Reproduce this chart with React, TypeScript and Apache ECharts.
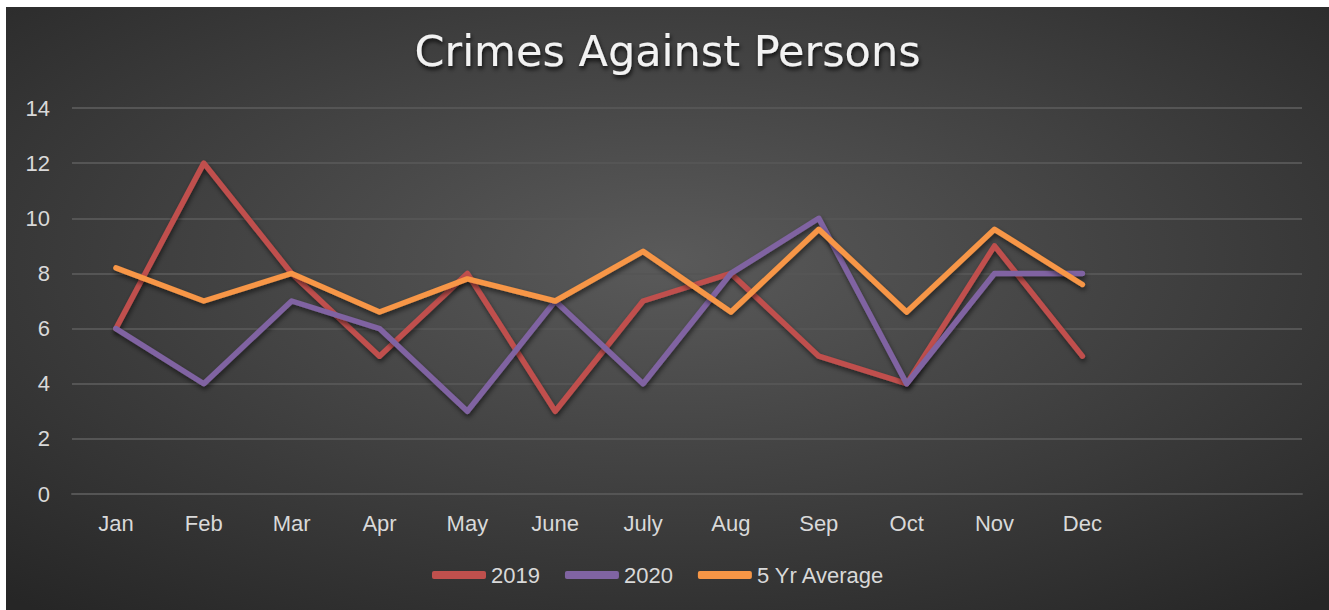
import React, { useEffect, useRef } from "react";
import * as echarts from "echarts";

const categories = ["Jan", "Feb", "Mar", "Apr", "May", "June", "July", "Aug", "Sep", "Oct", "Nov", "Dec", "", ""];
const s2019 = [6, 12, 8, 5, 8, 3, 7, 8, 5, 4, 9, 5];
const s2020 = [6, 4, 7, 6, 3, 7, 4, 8, 10, 4, 8, 8];
const sAvg = [8.2, 7, 8, 6.6, 7.8, 7, 8.8, 6.6, 9.6, 6.6, 9.6, 7.6];
const seriesNames = ["2019", "2020", "5 Yr Average"];
const colors = ["#C0504D", "#8064A2", "#F79646"];

export default function App() {
  const ref = useRef<HTMLDivElement>(null);
  useEffect(() => {
    const chart = echarts.init(ref.current!, null, { renderer: "svg" });
    const font = "'Liberation Sans', Arial, sans-serif";
    const mk = (name: string, data: number[], color: string) => ({
      name,
      type: "line",
      data,
      symbol: "none",
      lineStyle: {
        color,
        width: 5.5,
        cap: "round",
        join: "round",
        shadowColor: "rgba(0,0,0,0.55)",
        shadowBlur: 5,
        shadowOffsetY: 3,
        shadowOffsetX: 1,
      },
      itemStyle: { color },
    });
    chart.setOption({
      animation: false,
      backgroundColor: {
        type: "radial",
        x: 0.5,
        y: 0.42,
        r: 0.75,
        colorStops: [
          { offset: 0, color: "#5a5a5a" },
          { offset: 1, color: "#262626" },
        ],
      },
      title: {
        text: "Crimes Against Persons",
        left: "center",
        top: 17,
        textStyle: {
          color: "#f2f2f2",
          fontSize: 43,
          fontWeight: "normal",
          fontFamily: "'DejaVu Sans', sans-serif",
          textShadowColor: "rgba(0,0,0,0.8)",
          textShadowBlur: 4,
          textShadowOffsetY: 3,
          textShadowOffsetX: 1,
        },
      },
      legend: {
        data: seriesNames,
        top: 552,
        left: 421,
        icon: "roundRect",
        itemWidth: 54,
        itemHeight: 8,
        itemGap: 25,
        textStyle: { color: "#d9d9d9", fontSize: 22, fontFamily: font },
      },
      grid: { left: 66, right: 27, top: 101, bottom: 116, containLabel: false },
      xAxis: {
        type: "category",
        data: categories,
        boundaryGap: true,
        axisLine: { lineStyle: { color: "#555555", width: 2 } },
        axisTick: { show: false },
        axisLabel: { color: "#d9d9d9", fontSize: 22, fontFamily: font, margin: 18, interval: 0 },
      },
      yAxis: {
        type: "value",
        min: 0,
        max: 14,
        interval: 2,
        axisLine: { show: false },
        axisTick: { show: false },
        axisLabel: { color: "#d9d9d9", fontSize: 22, fontFamily: font, margin: 22 },
        splitLine: { lineStyle: { color: "#555555", width: 2 } },
      },
      series: [mk(seriesNames[0], s2019, colors[0]), mk(seriesNames[1], s2020, colors[1]), mk(seriesNames[2], sAvg, colors[2])],
    });
    return () => chart.dispose();
  }, []);
  return (
    <div style={{ position: "fixed", left: 0, top: 0, width: 1329, height: 610, background: "#ffffff" }}>
      <div ref={ref} style={{ position: "absolute", left: 6, top: 7, width: 1323, height: 603 }} />
    </div>
  );
}
